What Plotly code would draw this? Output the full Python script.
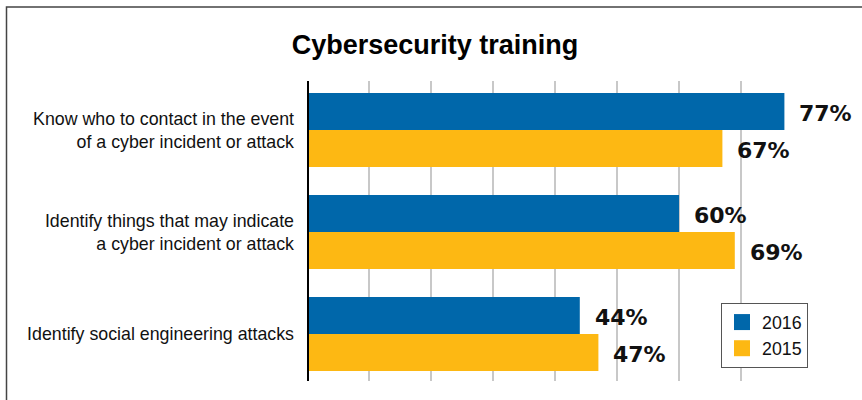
import plotly.graph_objects as go

# ---- data ----
categories = [
    "Know who to contact in the event<br>of a cyber incident or attack",
    "Identify things that may indicate<br>a cyber incident or attack",
    "Identify social engineering attacks",
]
series_names = ["2016", "2015"]
values_2016 = [77, 60, 44]
values_2015 = [67, 69, 47]
grid_ticks = [10, 20, 30, 40, 50, 60, 70]
title_text = "Cybersecurity training"

series_values = [values_2016, values_2015]
colors = ["#0067AA", "#FDB813"]

W, H = 862, 400
ML, MR, MT, MB = 307, 59, 81, 19
PW, PH = W - ML - MR, H - MT - MB


def px_x(p):
    return (p - ML) / PW


def px_y(p):
    return (H - MB - p) / PH


LABEL_FONT = "Liberation Sans, Arial, sans-serif"

fig = go.Figure()
for name, vals, col in zip(series_names, series_values, colors):
    fig.add_trace(go.Bar(
        x=vals, y=categories, orientation="h", name=name,
        marker=dict(color=col, line=dict(width=0)),
        showlegend=False, hoverinfo="skip",
    ))
# legend proxies (square swatches)
for name, col in zip(series_names, colors):
    fig.add_trace(go.Scatter(
        x=[None], y=[None], mode="markers", name=name,
        marker=dict(symbol="square", size=16, color=col, line=dict(width=0)),
        showlegend=True,
    ))

annotations = []
shifts = [18.5 - 2, -18.5 - 2]
for vals, ys in zip(series_values, shifts):
    for cat, v in zip(categories, vals):
        annotations.append(dict(
            x=v, y=cat, xref="x", yref="y", text=f"{v}%", showarrow=False,
            xanchor="left", yanchor="middle", xshift=13, yshift=ys,
            font=dict(family="DejaVu Sans", size=22, color="#111111", weight="bold"),
        ))

shapes = [
    # y axis line
    dict(type="line", xref="x", yref="paper", x0=0, x1=0, y0=0, y1=1,
         line=dict(color="#000000", width=4), layer="above"),
    # outer frame (left + top)
    dict(type="path", xref="paper", yref="paper",
         path=f"M {px_x(6.5)},{px_y(401)} L {px_x(6.5)},{px_y(7)} L {px_x(863)},{px_y(7)}",
         line=dict(color="#444444", width=1.5)),
]

fig.update_layout(
    width=W, height=H,
    margin=dict(l=ML, r=MR, t=MT, b=MB, autoexpand=False),
    paper_bgcolor="white", plot_bgcolor="white",
    barmode="group", bargap=0.275, bargroupgap=0,
    title=dict(text=title_text, x=435 / W, xref="container", xanchor="center",
               y=1 - 45 / H, yref="container", yanchor="middle",
               font=dict(family="Liberation Sans, Arial, sans-serif", size=27, color="#000000", weight="bold")),
    xaxis=dict(range=[0, 80], tickvals=grid_ticks, showticklabels=False,
               showgrid=True, gridcolor="#C8C8C8", gridwidth=1.5,
               zeroline=False, showline=False, fixedrange=True),
    yaxis=dict(range=[2.461, -0.480], showgrid=False, zeroline=False, showline=False,
               ticks="", ticklabelstandoff=12, fixedrange=True,
               tickfont=dict(family=LABEL_FONT, size=17.8, color="#111111")),
    legend=dict(x=px_x(721), y=px_y(303), xanchor="left", yanchor="top",
                bordercolor="#555555", borderwidth=1, bgcolor="white",
                font=dict(family=LABEL_FONT, size=17.8, color="#111111"),
                itemwidth=30, tracegroupgap=0),
    annotations=annotations,
    shapes=shapes,
    showlegend=True,
)

fig.write_html("out.html", config={"displayModeBar": False},
               post_script="document.body.style.margin='0';")
